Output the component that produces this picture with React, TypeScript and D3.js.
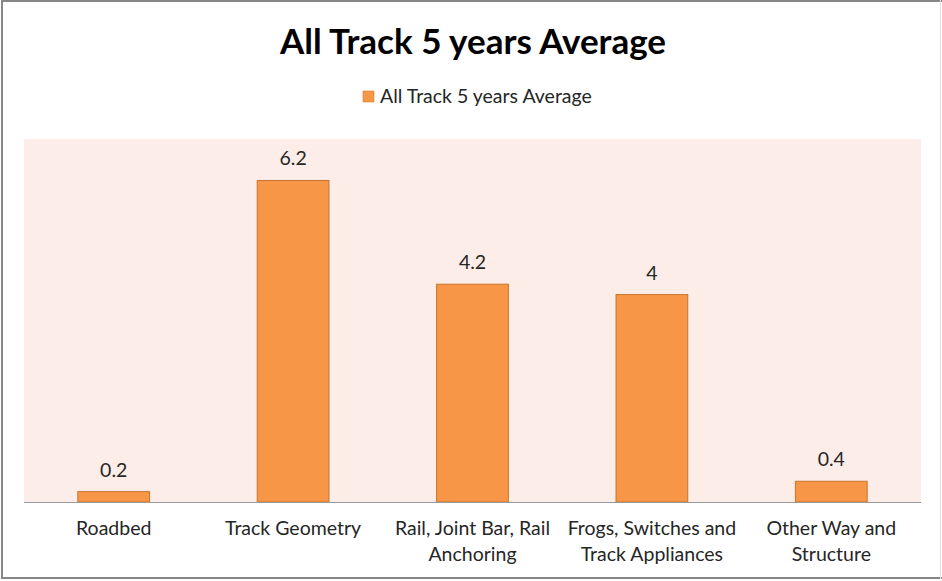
import * as d3 from "d3"
import { useEffect, useRef } from "react"

const categories = [
    ["Roadbed"],
    ["Track Geometry"],
    ["Rail, Joint Bar, Rail", "Anchoring"],
    ["Frogs, Switches and", "Track Appliances"],
    ["Other Way and", "Structure"],
]
const values = [0.2, 6.2, 4.2, 4, 0.4]
const seriesName = "All Track 5 years Average"
const title = "All Track 5 years Average"

export default function App() {
    const ref = useRef<SVGSVGElement | null>(null)

    useEffect(() => {
        const width = 942
        const height = 581
        const font = "Lato, 'Open Sans', sans-serif"
        const svg = d3.select(ref.current)
        svg.selectAll("*").remove()
        svg.attr("width", width).attr("height", height)

        const margin = { left: 24, right: 21, top: 139, bottom: 79 }
        const x = d3.scaleBand<number>()
            .domain(d3.range(values.length))
            .range([margin.left, width - margin.right])
            .paddingInner(0.6)
            .paddingOuter(0.3)
        const y = d3.scaleLinear()
            .domain([0, 7])
            .range([height - margin.bottom, margin.top])

        svg.append("rect")
            .attr("width", width).attr("height", height)
            .attr("fill", "#ffffff")

        // plot background
        svg.append("rect")
            .attr("x", margin.left)
            .attr("y", margin.top)
            .attr("width", width - margin.left - margin.right)
            .attr("height", y(0) - margin.top)
            .attr("fill", "#fcede8")

        svg.append("g")
            .selectAll("rect")
            .data(values)
            .join("rect")
            .attr("x", (_, i) => x(i)!)
            .attr("y", (d) => y(d))
            .attr("width", x.bandwidth())
            .attr("height", (d) => y(0) - y(d))
            .attr("fill", "#f79646")
            .attr("stroke", "#c8742f")
            .attr("stroke-width", 1)

        svg.append("line")
            .attr("x1", margin.left).attr("x2", width - margin.right)
            .attr("y1", y(0) + 0.5).attr("y2", y(0) + 0.5)
            .attr("stroke", "#9a9a9a")

        svg.append("g")
            .selectAll("text")
            .data(values)
            .join("text")
            .attr("x", (_, i) => x(i)! + x.bandwidth() / 2)
            .attr("y", (d) => y(d) - 15)
            .attr("text-anchor", "middle")
            .attr("font-family", font)
            .attr("font-size", 19.5)
            .attr("fill", "#262626")
            .text((d) => String(d))

        const labels = svg.append("g")
            .attr("font-family", font)
            .attr("font-size", 19.5)
            .attr("fill", "#262626")
            .attr("text-anchor", "middle")
        categories.forEach((lines, i) => {
            lines.forEach((line, j) => {
                labels.append("text")
                    .attr("x", x(i)! + x.bandwidth() / 2)
                    .attr("y", y(0) + 33 + j * 26)
                    .text(line)
            })
        })

        svg.append("text")
            .attr("x", 473)
            .attr("y", 54)
            .attr("text-anchor", "middle")
            .attr("font-family", font)
            .attr("font-weight", "bold")
            .attr("font-size", 35)
            .attr("fill", "#000000")
            .text(title)

        svg.append("rect")
            .attr("x", 363).attr("y", 91)
            .attr("width", 11).attr("height", 11)
            .attr("fill", "#f79646")
            .attr("stroke", "#c8742f")
            .attr("stroke-width", 0.5)
        svg.append("text")
            .attr("x", 380)
            .attr("y", 103)
            .attr("font-family", font)
            .attr("font-size", 19.5)
            .attr("fill", "#262626")
            .text(seriesName)

        // chart border
        svg.append("path")
            .attr("d", `M${width},1 H2 V${height - 3} H${width}`)
            .attr("fill", "none")
            .attr("stroke", "#868686")
            .attr("stroke-width", 2)
        svg.append("line")
            .attr("x1", width - 1.5).attr("x2", width - 1.5)
            .attr("y1", 0).attr("y2", height - 2)
            .attr("stroke", "#e4e4e4")
    }, [])

    return <svg ref={ref} style={{ position: "absolute", left: 0, top: 0 }} />
}
